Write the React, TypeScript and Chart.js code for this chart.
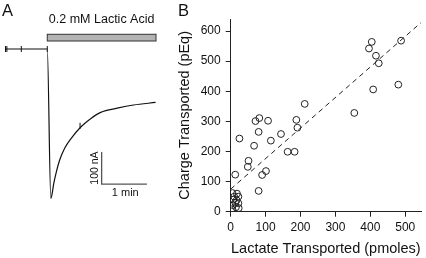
import React, { useEffect, useRef } from 'react';
import { Chart, registerables } from 'chart.js';
Chart.register(...registerables);

const FONT = '"Liberation Sans", Arial, Helvetica, sans-serif';

// ---------- Panel A: current trace ----------
const traceTime = [-56, 0, 4.7, 6.5, 8.6, 12.1, 16.4, 23, 31.7, 44.7, 57.8, 70.8, 92.6, 114.3, 143.5];
const traceCurrent = [0, 0, -467, -451, -420, -383, -347, -310, -279, -243, -217, -198, -185, -175, -167];
const markerTime = [-55.3, -53.5, -34.4, 0, 43.4];
const markerCurrent = [0, 0, 0, 0, -240];
const acidTime = [0, 144];
const acidBarCurrent = [46, 25];
const acidLabel = '0.2 mM Lactic Acid';
const scaleBarTime = [72, 132];
const scaleBarCurrent = [-322, -422];
const scaleBarLabels = ['100 nA', '1 min'];

// ---------- Panel B: scatter ----------
const lactateX = [404, 396, 416, 424, 488, 408, 480, 354, 212, 144, 188, 191, 183, 163, 115, 107, 82, 71, 80, 67, 51, 49, 25, 13, 80, 90, 101,
  5, 18, 10, 22, 8, 17, 13, 22, 6, 15, 23, 3];
const chargeY = [564, 542, 518, 493, 568, 406, 422, 328, 358, 258, 305, 279, 199, 199, 236, 302, 311, 301, 265, 219, 169, 149, 243, 123, 69, 122, 135,
  62, 60, 50, 50, 40, 38, 30, 28, 22, 15, 12, 8];
const fitX = [0, 545];
const fitY = [75, 628];
const xTicks = [0, 100, 200, 300, 400, 500];
const yTicks = [0, 100, 200, 300, 400, 500, 600];
const xTitle = 'Lactate Transported (pmoles)';
const yTitle = 'Charge Transported (pEq)';

const panelAPlugin = {
  id: 'panelA',
  afterDraw(chart: any) {
    const { ctx } = chart;
    const x = chart.scales.x, y = chart.scales.y;
    ctx.save();
    const bx0 = x.getPixelForValue(acidTime[0]);
    const bx1 = x.getPixelForValue(acidTime[1]);
    const by0 = y.getPixelForValue(acidBarCurrent[0]);
    const by1 = y.getPixelForValue(acidBarCurrent[1]);
    ctx.fillStyle = '#b3b3b3';
    ctx.fillRect(bx0, by0, bx1 - bx0, by1 - by0);
    ctx.strokeStyle = '#333';
    ctx.lineWidth = 1;
    ctx.strokeRect(bx0, by0, bx1 - bx0, by1 - by0);

    ctx.fillStyle = '#111';
    ctx.font = `12.5px ${FONT}`;
    ctx.textAlign = 'center';
    ctx.textBaseline = 'alphabetic';
    ctx.fillText(acidLabel, (bx0 + bx1) / 2, by0 - 11);

    const sx0 = x.getPixelForValue(scaleBarTime[0]);
    const sx1 = x.getPixelForValue(scaleBarTime[1]);
    const sy0 = y.getPixelForValue(scaleBarCurrent[0]);
    const sy1 = y.getPixelForValue(scaleBarCurrent[1]);
    ctx.strokeStyle = '#555';
    ctx.lineWidth = 1.3;
    ctx.beginPath();
    ctx.moveTo(sx0, sy0);
    ctx.lineTo(sx0, sy1);
    ctx.lineTo(sx1, sy1);
    ctx.stroke();

    ctx.font = `11px ${FONT}`;
    ctx.fillText(scaleBarLabels[1], (sx0 + sx1) / 2 + 1, sy1 + 11.5);
    ctx.save();
    ctx.translate(sx0 - 7, (sy0 + sy1) / 2);
    ctx.rotate(-Math.PI / 2);
    ctx.textBaseline = 'middle';
    ctx.font = `10.5px ${FONT}`;
    ctx.fillText(scaleBarLabels[0], 0, 0);
    ctx.restore();

    ctx.textAlign = 'left';
    ctx.font = `16.5px ${FONT}`;
    ctx.fillText('A', 2, 15.5);
    ctx.restore();
  },
};

const panelBPlugin = {
  id: 'panelB',
  afterDraw(chart: any) {
    const { ctx } = chart;
    ctx.save();
    ctx.fillStyle = '#111';
    ctx.font = `16.5px ${FONT}`;
    ctx.textAlign = 'left';
    ctx.textBaseline = 'alphabetic';
    ctx.fillText('B', 10, 15.5);
    ctx.restore();
  },
};

export default function App() {
  const refA = useRef<HTMLCanvasElement>(null);
  const refB = useRef<HTMLCanvasElement>(null);

  useEffect(() => {
    const chartA = new Chart(refA.current!, {
      type: 'line',
      data: {
        datasets: [
          {
            data: traceTime.map((t, i) => ({ x: t, y: traceCurrent[i] })),
            borderColor: '#111',
            borderWidth: 1.2,
            pointRadius: 0,
            fill: false,
            cubicInterpolationMode: 'monotone',
          },
          {
            type: 'scatter',
            data: markerTime.map((t, i) => ({ x: t, y: markerCurrent[i] })),
            pointStyle: 'line',
            rotation: 90,
            pointRadius: 3,
            borderColor: '#111',
            borderWidth: 1,
            showLine: false,
          } as any,
        ],
      },
      options: {
        animation: false,
        responsive: false,
        maintainAspectRatio: false,
        layout: { padding: { left: 3, right: 12, top: 17, bottom: 49 } },
        plugins: { legend: { display: false }, tooltip: { enabled: false } },
        scales: {
          x: { type: 'linear', min: -56, max: 144, display: false },
          y: { type: 'linear', min: -500, max: 100, display: false },
        },
      },
      plugins: [panelAPlugin],
    });

    const axisColor = '#222';
    const chartB = new Chart(refB.current!, {
      type: 'scatter',
      data: {
        datasets: [
          {
            type: 'line',
            data: fitX.map((v, i) => ({ x: v, y: fitY[i] })),
            borderColor: '#222',
            borderWidth: 1,
            borderDash: [5, 4],
            pointRadius: 0,
            fill: false,
          } as any,
          {
            data: lactateX.map((v, i) => ({ x: v, y: chargeY[i] })),
            pointRadius: 3.4,
            pointBackgroundColor: 'rgba(255,255,255,0)',
            pointBorderColor: '#222',
            pointBorderWidth: 1,
          },
        ],
      },
      options: {
        animation: false,
        responsive: false,
        maintainAspectRatio: false,
        layout: { padding: { left: 0, right: 2, top: 19, bottom: 0 } },
        plugins: { legend: { display: false }, tooltip: { enabled: false } },
        scales: {
          x: {
            type: 'linear',
            min: 0,
            max: 545,
            afterBuildTicks: (s: any) => { s.ticks = xTicks.map((v) => ({ value: v })); },
            afterFit: (s: any) => { s.height = 46.3; },
            grid: { drawOnChartArea: false, drawTicks: true, tickLength: 5, color: axisColor },
            border: { display: true, color: axisColor, width: 1 },
            ticks: { padding: 4, color: '#111', font: { size: 12, family: FONT } },
            title: { display: true, text: xTitle, color: '#111', font: { size: 14.5, family: FONT }, padding: { top: 0, bottom: 0 } },
          },
          y: {
            type: 'linear',
            min: 0,
            max: 640,
            afterBuildTicks: (s: any) => { s.ticks = yTicks.map((v) => ({ value: v })); },
            afterFit: (s: any) => { s.width = 62.7; },
            grid: { drawOnChartArea: false, drawTicks: true, tickLength: 5, color: axisColor },
            border: { display: true, color: axisColor, width: 1 },
            ticks: { padding: 5, color: '#111', font: { size: 12, family: FONT } },
            title: { display: true, text: yTitle, color: '#111', font: { size: 14.5, family: FONT }, padding: { top: 8, bottom: 0 } },
          },
        },
      },
      plugins: [panelBPlugin],
    });

    return () => {
      chartA.destroy();
      chartB.destroy();
    };
  }, []);

  return (
    <div style={{ position: 'absolute', left: 0, top: 0, width: 426, height: 258, background: '#fff' }}>
      <canvas ref={refA} width={168} height={258} style={{ position: 'absolute', left: 0, top: 0, width: 168, height: 258 }} />
      <canvas ref={refB} width={258} height={258} style={{ position: 'absolute', left: 168, top: 0, width: 258, height: 258 }} />
    </div>
  );
}
